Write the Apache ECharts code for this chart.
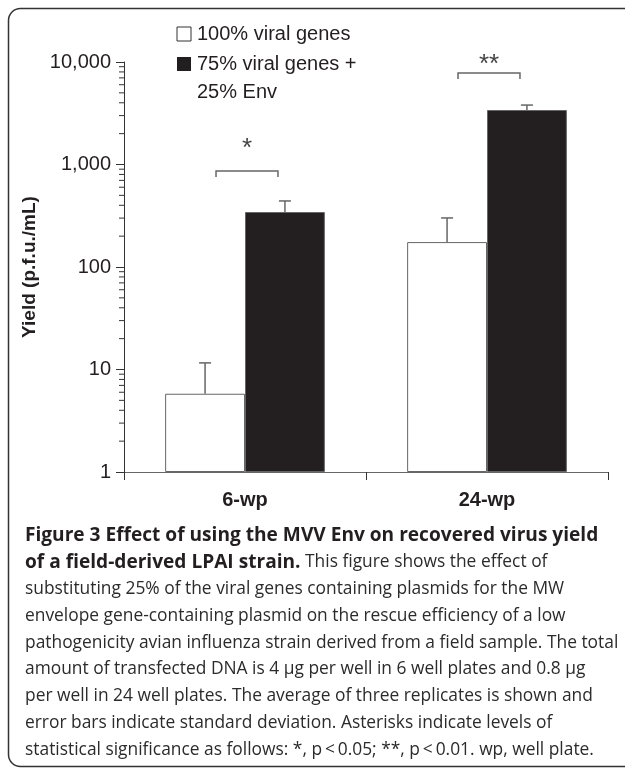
<!DOCTYPE html>
<html><head><meta charset="utf-8">
<script src="https://cdn.jsdelivr.net/npm/echarts@6/dist/echarts.min.js"></script>
<style>html,body{margin:0;padding:0;background:#fff}#c{width:625px;height:769px}</style>
</head><body><div id="c"></div>
<script>
// ---- data ----
const categories = ['6-wp', '24-wp'];
const seriesNames = ['100% viral genes', '75% viral genes +\n25% Env'];
const yield100 = [5.8, 175];
const yield75 = [344, 3400];
const sd100 = [5.8, 126];
const sd75 = [97, 400];
const yTickValues = [1, 10, 100, 1000, 10000];
const yMinorTicks = [2,3,4,5,6,7,8,9, 20,30,40,50,60,70,80,90, 200,300,400,500,600,700,800,900, 2000,3000,4000,5000,6000,7000,8000,9000];
const sigBracketLevel = [865, 7800];
const sigStarLevel = [1420, 9300];
const sigLabels = ['*', '**'];
const yAxisName = 'Yield (p.f.u./mL)';
const captionBold1 = 'Figure 3 Effect of using the MVV Env on recovered virus yield';
const captionBold2 = 'of a field-derived LPAI strain.';
const captionLines = [
  ' This figure shows the effect of',
  'substituting 25% of the viral genes containing plasmids for the MW',
  'envelope gene-containing plasmid on the rescue efficiency of a low',
  'pathogenicity avian influenza strain derived from a field sample. The total',
  'amount of transfected DNA is 4 \u00b5g per well in 6 well plates and 0.8 \u00b5g',
  'per well in 24 well plates. The average of three replicates is shown and',
  'error bars indicate standard deviation. Asterisks indicate levels of',
  'statistical significance as follows: *, p\u2009<\u20090.05; **, p\u2009<\u20090.01. wp, well plate.'
];

// ---- caption font sizes fitted to the reference line widths ----
const CAP_FONT = '"Open Sans"';
const mctx = document.createElement('canvas').getContext('2d');
function fitSize(text, weight, targetW) {
  mctx.font = weight + ' 100px ' + CAP_FONT;
  return 100 * targetW / mctx.measureText(text).width;
}
const boldSize = Math.min(20, (fitSize(captionBold2, 'bold', 268) + fitSize(captionBold1, 'bold', 590)) / 2);
const regSize = Math.min(18.5, fitSize(captionLines[3], 'normal', 594));

// ---- chart ----
const chart = echarts.init(document.getElementById('c'), null, {renderer: 'canvas'});
const DARK = '#231f20', GREY = '#666';
const BAR_FRAC = 0.33;

function errRenderer(side) {
  return function (params, api) {
    const cs = params.coordSys;
    const band = cs.width / categories.length;
    const ci = api.value(0), v = api.value(1), e = api.value(2);
    const base = api.coord([ci, v]);
    const top = api.coord([ci, v + e]);
    const x = base[0] + side * band * BAR_FRAC / 2;
    const cap = 6;
    return {type: 'group', children: [
      {type: 'line', shape: {x1: x, y1: base[1], x2: x, y2: top[1]}, style: {stroke: GREY, lineWidth: 1.5}},
      {type: 'line', shape: {x1: x - cap, y1: top[1], x2: x + cap, y2: top[1]}, style: {stroke: GREY, lineWidth: 1.5}}
    ]};
  };
}

const richCaption = {
  b: {fontFamily: 'Open Sans', fontWeight: 'bold', fontSize: boldSize, lineHeight: 26.8, fill: DARK},
  r: {fontFamily: 'Open Sans', fontSize: regSize, lineHeight: 26.8, fill: '#2b2b2b'}
};
const captionText = '{b|' + captionBold1 + '}\n{b|' + captionBold2 + '}{r|' + captionLines[0] + '}\n' +
  captionLines.slice(1).map(l => '{r|' + l + '}').join('\n');

const legendLines = seriesNames[1].split('\n');

const option = {
  animation: false,
  backgroundColor: '#fff',
  grid: {left: 124, right: 17, top: 62, bottom: 297, containLabel: false},
  xAxis: {
    type: 'category', data: categories,
    axisLine: {lineStyle: {color: GREY, width: 1}},
    axisTick: {show: true, length: 8, lineStyle: {color: '#333'}},
    axisLabel: {margin: 18, fontFamily: 'Liberation Sans', fontWeight: 'bold', fontSize: 20, color: DARK}
  },
  yAxis: {
    type: 'log', logBase: 10, min: 1, max: 10000,
    name: yAxisName, nameLocation: 'middle', nameGap: 69,
    nameTextStyle: {fontFamily: 'Liberation Sans', fontWeight: 'bold', fontSize: 19, color: DARK},
    axisLine: {show: true, lineStyle: {color: '#333', width: 1}},
    axisTick: {show: true, length: 8, lineStyle: {color: '#333'}},
    splitLine: {show: false},
    axisLabel: {margin: 13, fontFamily: 'Liberation Sans', fontSize: 20, color: DARK,
      formatter: v => yTickValues.indexOf(v) >= 0 ? v.toLocaleString('en-US') : ''}
  },
  series: [
    {name: seriesNames[0], type: 'bar', data: yield100, barWidth: (BAR_FRAC * 100) + '%', barGap: '0%',
      itemStyle: {color: '#fff', borderColor: GREY, borderWidth: 1}},
    {name: seriesNames[1], type: 'bar', data: yield75, barWidth: (BAR_FRAC * 100) + '%', barGap: '0%',
      itemStyle: {color: DARK, borderColor: GREY, borderWidth: 1}},
    {type: 'custom', z: 5, data: yield100.map((v, i) => [i, v, sd100[i]]), renderItem: errRenderer(-1)},
    {type: 'custom', z: 5, data: yield75.map((v, i) => [i, v, sd75[i]]), renderItem: errRenderer(1)},
    {type: 'custom', z: 5, clip: false, data: yMinorTicks.map(v => [0, v]),
      renderItem: function (params, api) {
        const x = params.coordSys.x;
        const y = api.coord([0, api.value(1)])[1];
        return {type: 'line', shape: {x1: x - 5, y1: y, x2: x, y2: y}, style: {stroke: '#333', lineWidth: 1}};
      }},
    {type: 'custom', z: 5, clip: false, data: sigBracketLevel.map((v, i) => [i, v, sigStarLevel[i]]),
      renderItem: function (params, api) {
        const band = params.coordSys.width / categories.length;
        const i = params.dataIndex;
        const p = api.coord([api.value(0), api.value(1)]);
        const s = api.coord([api.value(0), api.value(2)]);
        const half = band * 0.128, cx = p[0] + 2;
        return {type: 'group', children: [
          {type: 'polyline', shape: {points: [[cx - half, p[1] + 6], [cx - half, p[1]], [cx + half, p[1]], [cx + half, p[1] + 6]]},
            style: {stroke: GREY, lineWidth: 1.5, fill: null}},
          {type: 'text', style: {x: cx, y: s[1], text: sigLabels[i], align: 'center', verticalAlign: 'middle',
            font: '26px "Liberation Sans"', fill: '#444'}}
        ]};
      }}
  ],
  graphic: [
    {type: 'rect', shape: {x: 8.5, y: 8.5, width: 660, height: 758, r: 12}, style: {fill: null, stroke: '#333', lineWidth: 1.5}, silent: true},
    {type: 'rect', shape: {x: 177, y: 27, width: 14, height: 14}, style: {fill: '#fff', stroke: '#333', lineWidth: 1}},
    {type: 'text', x: 197, y: 34, style: {text: seriesNames[0], font: '20px "Liberation Sans"', fill: DARK, verticalAlign: 'middle'}},
    {type: 'rect', shape: {x: 177, y: 57, width: 14, height: 14}, style: {fill: DARK}},
    {type: 'text', x: 197, y: 64, style: {text: legendLines[0], font: '20px "Liberation Sans"', fill: DARK, verticalAlign: 'middle'}},
    {type: 'text', x: 197, y: 92, style: {text: legendLines[1], font: '20px "Liberation Sans"', fill: DARK, verticalAlign: 'middle'}},
    {type: 'text', x: 25, y: 522, style: {text: captionText, rich: richCaption}}
  ]
};
chart.setOption(option);
</script>
</body></html>
